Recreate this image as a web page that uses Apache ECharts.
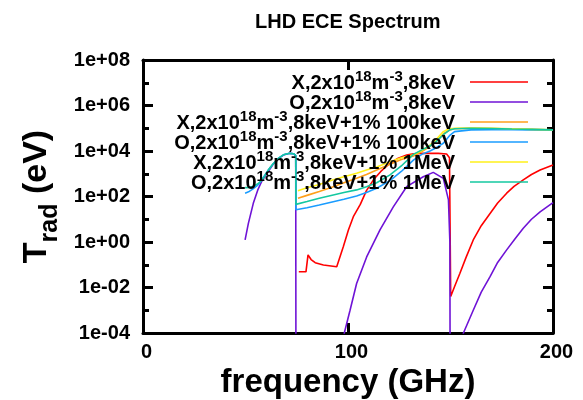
<!DOCTYPE html>
<html>
<head>
<meta charset="utf-8">
<title>LHD ECE Spectrum</title>
<script src="https://cdn.jsdelivr.net/npm/echarts@6/dist/echarts.min.js"></script>
<style>
  html, body { margin: 0; padding: 0; background: #fff; }
  #chart { width: 583px; height: 400px; }
</style>
</head>
<body>
<div id="chart"></div>
<script>
// Radiation temperature spectra, [frequency (GHz), T_rad (eV)].
// null marks a break in the curve (emission below the plotted range).
const xThermal = [
  [76, 4.9e-2], [79.5, 4.9e-2], [80.5, 2.7e-1], [82, 1.7e-1], [84, 1.23e-1],
  [88, 9.8e-2], [94.5, 8.1e-2], [97.7, 6.2e-1], [100.2, 3.4], [102.6, 1.3e1],
  [106, 4.5e1], [109, 1.8e2], [112.4, 5.4e2], [116, 1.26e3], [120.5, 2.9e3],
  [124.5, 4.8e3], [128.6, 6.6e3], [132, 7.6e3], [136.7, 7.9e3], [144, 7.9e3],
  [148.1, 7.4e3], [149.5, 5.0e3], [150.1, 4.0e-3], [152, 1.1e-2], [154.6, 4.2e-2],
  [157.5, 2.0e-1], [161.1, 1.23], [165, 5.2], [169.3, 1.8e1], [173, 5.2e1],
  [177.4, 1.4e2], [181, 2.8e2], [185.5, 5.4e2], [189.5, 9.3e2], [193.7, 1.45e3],
  [200, 2.4e3]
];

const oThermal = [
  [49.8, 1.23], [51.4, 6.6], [53.8, 5.0e1], [56, 1.95e2], [58, 4.8e2],
  [61.1, 1.26e3], [63.5, 2.6e3], [66, 4.6e3], [68.5, 6.6e3], [71.5, 7.9e3],
  [73.5, 7.6e3], [74.5, 6.3e3], [74.6, 1e-5], [86, null],
  [97.8, 5e-5], [98.2, 1e-4], [101, 1.0e-3], [104.2, 1.5e-2], [109.1, 2.2e-1],
  [115.6, 3.4], [122.1, 3.5e1], [128.6, 2.7e2], [136.7, 7.4e2], [141.6, 1.15e3],
  [146.5, 6.3e2], [149, 7.1e1], [149.7, 1], [149.8, 1e-5], [152, null],
  [155.8, 5e-5], [156.3, 1e-4], [161.1, 1.0e-3], [165, 6.3e-3], [169.3, 3.0e-2],
  [173, 1.26e-1], [177.4, 4.5e-1], [181.5, 1.4], [185.5, 4.0], [189.5, 1.0e1],
  [193.7, 2.1e1], [200, 5.4e1]
];

const xTail100k = [
  [75.6, 8.3e1], [80, 1.12e2], [86, 1.66e2], [92.8, 2.7e2], [98, 4.0e2],
  [104.2, 6.3e2], [109, 9.3e2], [114, 1.45e3], [120.5, 2.6e3], [126, 4.2e3],
  [131.9, 6.0e3], [136, 9.5e3], [140, 1.6e4], [144, 3.2e4], [147, 6.0e4],
  [149.5, 8.3e4], [152, 9.5e4], [160, 1.0e5], [170, 9.8e4], [180, 9.3e4],
  [190, 8.9e4], [200, 8.3e4]
];

const oTail100k = [
  [49.8, 1.4e2], [51.5, 1.6e2], [53.5, 2.1e2], [56, 3.2e2], [58, 5.6e2],
  [59.5, 8.9e2], [61.1, 1.45e3], [63.5, 2.75e3], [66, 4.7e3], [68.5, 6.8e3],
  [71.5, 7.9e3], [73.5, 7.6e3], [74.5, 6.3e3], [74.6, 2.6e1], [80, 3.2e1],
  [86, 4.2e1], [92.8, 5.9e1], [98, 7.6e1], [104.2, 1.05e2], [109, 1.5e2],
  [114, 2.3e2], [120.5, 5.0e2], [126, 1.26e3], [131.9, 4.0e3], [136, 7.1e3],
  [140, 1.0e4], [143, 1.4e4], [146.5, 2.2e4], [149.8, 5.0e4], [152, 7.1e4],
  [160, 8.5e4], [170, 8.7e4], [180, 8.7e4], [190, 8.5e4], [200, 8.3e4]
];

const xTail1M = [
  [75.6, 1.8e2], [80, 2.4e2], [86, 3.4e2], [92.8, 5.4e2], [98, 7.4e2],
  [104.2, 1.05e3], [109, 1.45e3], [114, 2.0e3], [120.5, 3.4e3], [126, 5.0e3],
  [131.9, 6.9e3], [136, 1.05e4], [140, 1.8e4], [143, 3.2e4], [146.5, 7.1e4],
  [149, 9.3e4], [152, 1.0e5], [160, 1.02e5], [170, 1.0e5], [180, 9.5e4],
  [190, 8.9e4], [200, 8.5e4]
];

const oTail1M = [
  [49.8, 2.45e2], [52, 2.5e2], [54.5, 3.0e2], [57, 4.2e2], [59, 7.1e2],
  [61.1, 1.45e3], [63.5, 2.75e3], [66, 4.7e3], [68.5, 6.8e3], [71.5, 7.9e3],
  [73.5, 7.6e3], [74.5, 6.3e3], [74.6, 4.5e1], [80, 6.0e1], [86, 8.3e1],
  [92.8, 1.17e2], [98, 1.5e2], [104.2, 1.95e2], [109, 2.7e2], [114, 4.0e2],
  [120.5, 8.9e2], [126, 2.2e3], [131.9, 7.1e3], [136, 1.12e4], [140, 1.66e4],
  [143, 2.6e4], [146.5, 5.2e4], [149.5, 8.3e4], [152, 9.5e4], [160, 1.0e5],
  [170, 9.8e4], [180, 9.3e4], [190, 8.9e4], [200, 8.5e4]
];

const seriesNames = [
  'X,2x10^18m^-3,8keV',
  'O,2x10^18m^-3,8keV',
  'X,2x10^18m^-3,8keV+1% 100keV',
  'O,2x10^18m^-3,8keV+1% 100keV',
  'X,2x10^18m^-3,8keV+1% 1MeV',
  'O,2x10^18m^-3,8keV+1% 1MeV'
];
const seriesData = [xThermal, oThermal, xTail100k, oTail100k, xTail1M, oTail1M];
const seriesColors = ['#ff0000', '#6f13d6', '#ff9f1a', '#1a9cff', '#fff01a', '#14c8a0'];

// Decade exponents for the log-scaled vertical axis
const yExpMin = -4;
const yExpMax = 8;
const yExpStep = 2;
const freqTicks = [0, 100, 200];

const FONT = '"Liberation Sans", Arial, Helvetica, sans-serif';

function expLabel(v) {
  const e = Math.round(v);
  return '1e' + (e < 0 ? '-' : '+') + String(Math.abs(e)).padStart(2, '0');
}

// "a^18b" -> rich text with superscripts
function richLegend(name) {
  const parts = name.split('^');
  let out = '{m|' + parts[0] + '}';
  for (let i = 1; i < parts.length; i++) {
    const m = parts[i].match(/^(-?\d+)(.*)$/);
    out += '{s|' + m[1] + '}';
    if (m[2]) out += '{m|' + m[2] + '}';
  }
  return out + '{pad| }';
}

const toLog = pts => pts.map(([f, t]) => [f, t == null ? '-' : Math.log10(t)]);

const chart = echarts.init(document.getElementById('chart'), null, { renderer: 'canvas' });

const axisLineStyle = { color: '#000', width: 3 };
const labelStyle = { fontFamily: FONT, fontSize: 20, fontWeight: 'bold', color: '#000' };

const option = {
  animation: false,
  backgroundColor: '#fff',
  color: seriesColors,
  title: {
    text: 'LHD ECE Spectrum',
    left: 255,
    top: 12,
    padding: 0,
    textStyle: { fontFamily: FONT, fontSize: 20, fontWeight: 'bold', color: '#000' }
  },
  grid: {
    left: 143, right: 30, top: 60, bottom: 67,
    containLabel: false,
    outerBoundsMode: 'none'
  },
  xAxis: [
    {
      type: 'value',
      min: freqTicks[0], max: freqTicks[freqTicks.length - 1], interval: 100,
      position: 'bottom',
      axisLine: { show: true, onZero: false, lineStyle: axisLineStyle },
      axisTick: { show: true, inside: true, length: 10, lineStyle: axisLineStyle },
      splitLine: { show: false },
      axisLabel: Object.assign({ show: true, margin: 9, padding: [0, 0, 0, 7] }, labelStyle),
      name: 'frequency (GHz)',
      nameLocation: 'middle',
      nameGap: 26,
      nameTextStyle: { fontFamily: FONT, fontSize: 33, fontWeight: 'bold', color: '#000' }
    },
    {
      type: 'value',
      min: freqTicks[0], max: freqTicks[freqTicks.length - 1], interval: 100,
      position: 'top',
      axisLine: { show: true, onZero: false, lineStyle: axisLineStyle },
      axisTick: { show: true, inside: true, length: 10, lineStyle: axisLineStyle },
      splitLine: { show: false },
      axisLabel: { show: false }
    }
  ],
  yAxis: [
    {
      type: 'value',
      min: yExpMin, max: yExpMax, interval: yExpStep,
      position: 'left',
      axisLine: { show: true, onZero: false, lineStyle: axisLineStyle },
      axisTick: { show: true, inside: true, length: 10, lineStyle: axisLineStyle },
      minorTick: { show: true, splitNumber: 2, length: 6, lineStyle: axisLineStyle },
      splitLine: { show: false },
      axisLabel: Object.assign({ show: true, margin: 13, formatter: expLabel }, labelStyle),
      name: '{t|T}{r|rad}{t| (eV)}',
      nameLocation: 'middle',
      nameRotate: 90,
      nameGap: 87,
      nameTextStyle: {
        rich: {
          t: { fontFamily: FONT, fontSize: 34, fontWeight: 'bold', color: '#000', lineHeight: 36, verticalAlign: 'top' },
          r: { fontFamily: FONT, fontSize: 25, fontWeight: 'bold', color: '#000', lineHeight: 25, padding: [18, 0, 0, 0], verticalAlign: 'top' }
        }
      }
    },
    {
      type: 'value',
      min: yExpMin, max: yExpMax, interval: yExpStep,
      position: 'right',
      axisLine: { show: true, onZero: false, lineStyle: axisLineStyle },
      axisTick: { show: true, inside: true, length: 10, lineStyle: axisLineStyle },
      minorTick: { show: true, splitNumber: 2, length: 6, lineStyle: axisLineStyle },
      splitLine: { show: false },
      axisLabel: { show: false }
    }
  ],
  legend: seriesNames.map((name, i) => ({
    data: [name],
    orient: 'vertical',
    align: 'right',
    right: 55,
    top: 69 + 20 * i,
    padding: 0,
    itemWidth: 58,
    itemHeight: 1.5,
    icon: 'rect',
    selectedMode: false,
    itemStyle: { borderWidth: 0 },
    formatter: richLegend,
    textStyle: {
      color: '#000',
      rich: {
        m: { fontFamily: FONT, fontSize: 20, fontWeight: 'bold', color: '#000', lineHeight: 22, verticalAlign: 'bottom' },
        s: { fontFamily: FONT, fontSize: 15, fontWeight: 'bold', color: '#000', lineHeight: 15, padding: [0, 0, 9, 0], verticalAlign: 'bottom' },
        pad: { width: 10 }
      }
    }
  })),
  series: seriesNames.map((name, i) => ({
    name: name,
    type: 'line',
    xAxisIndex: 0,
    yAxisIndex: 0,
    data: toLog(seriesData[i]),
    showSymbol: false,
    symbol: 'none',
    connectNulls: false,
    clip: true,
    lineStyle: { width: 1.6, color: seriesColors[i] },
    itemStyle: { color: seriesColors[i] }
  }))
};

chart.setOption(option);
</script>
</body>
</html>
